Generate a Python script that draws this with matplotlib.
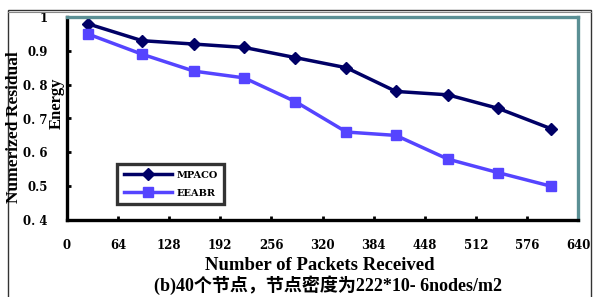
import matplotlib
matplotlib.use("Agg")
import matplotlib.pyplot as plt
from matplotlib.patches import Rectangle

x_mpaco = [26, 94, 159, 222, 286, 350, 412, 477, 540, 606]
y_mpaco = [0.98, 0.93, 0.92, 0.91, 0.88, 0.85, 0.78, 0.77, 0.73, 0.67]
x_eeabr = [26, 94, 159, 222, 286, 350, 412, 477, 540, 606]
y_eeabr = [0.95, 0.89, 0.84, 0.82, 0.75, 0.66, 0.65, 0.58, 0.54, 0.50]
xticks = [0, 64, 128, 192, 256, 320, 384, 448, 512, 576, 640]
yticks = [0.4, 0.5, 0.6, 0.7, 0.8, 0.9, 1.0]
ytick_labels = ['0. 4', '0.5', '0. 6', '0. 7', '0. 8', '0.9', '1']

serif = ['Liberation Serif', 'DejaVu Serif']
wide = ['DejaVu Serif', 'Liberation Serif']
mixed = ['Liberation Serif', 'Noto Sans CJK SC', 'DejaVu Sans']

fig = plt.figure(figsize=(5.93, 2.97), dpi=100)
fig.patch.set_facecolor('white')

# outer frame
fig.add_artist(Rectangle((8/593, -0.05), 583/593, 1 - 10/297 + 0.05, transform=fig.transFigure,
                         fill=False, edgecolor='#333333', linewidth=1.0))
fig.add_artist(plt.Line2D([8/593, 591/593], [1 - 12/297, 1 - 12/297], transform=fig.transFigure,
                          color='#888888', linewidth=0.8))

ax = fig.add_axes([67/593, 1 - 220/297, (578 - 67)/593, (220 - 17)/297])
ax.plot(x_mpaco, y_mpaco, color='#000066', linewidth=2.5, marker='D', markersize=6,
        label='MPACO')
ax.plot(x_eeabr, y_eeabr, color='#5544ff', linewidth=2.5, marker='s', markersize=7,
        label='EEABR')

ax.set_xlim(0, 640)
ax.set_ylim(0.4, 1.0)
ax.set_xticks(xticks)
ax.set_yticks(yticks)
ax.set_xticklabels([str(v) for v in xticks], fontfamily=wide, fontweight='bold', fontsize=8.5)
ax.set_yticklabels(ytick_labels, fontfamily=wide, fontweight='bold', fontsize=8.5)
ax.tick_params(axis='x', direction='in', length=3, width=2, pad=14)
ax.tick_params(axis='y', direction='in', length=3, width=2, pad=14)

for s in ['left', 'bottom']:
    ax.spines[s].set_color('black')
    ax.spines[s].set_linewidth(2.4)
for s in ['top', 'right']:
    ax.spines[s].set_color('#5a8f94')
    ax.spines[s].set_linewidth(2.4)

leg = ax.legend(loc='upper left', bbox_to_anchor=(0.088, 0.30), frameon=True, fancybox=False,
                prop={'family': wide, 'weight': 'bold', 'size': 7}, handlelength=5.0,
                borderpad=0.7, labelspacing=0.9, handletextpad=0.4)
leg.get_frame().set_edgecolor('black')
leg.get_frame().set_linewidth(2.4)

fig.text(14/593, 1 - 127/297, 'Numerized Residual', rotation=90, ha='center', va='center',
         fontfamily=serif, fontweight='bold', fontsize=12.5)
fig.text(57/593, 1 - 103/297, 'Energy', rotation=90, ha='center', va='center',
         fontfamily=serif, fontweight='bold', fontsize=12)
fig.text(320/593, 1 - 266/297, 'Number of Packets Received', ha='center', va='center',
         fontfamily=serif, fontweight='bold', fontsize=13.5)
fig.text(328/593, 1 - 285/297, '(b)40个节点，节点密度为222*10- 6nodes/m2', ha='center', va='center',
         family=mixed, fontweight='bold', fontsize=13)

fig.savefig('out.png', dpi=100)
